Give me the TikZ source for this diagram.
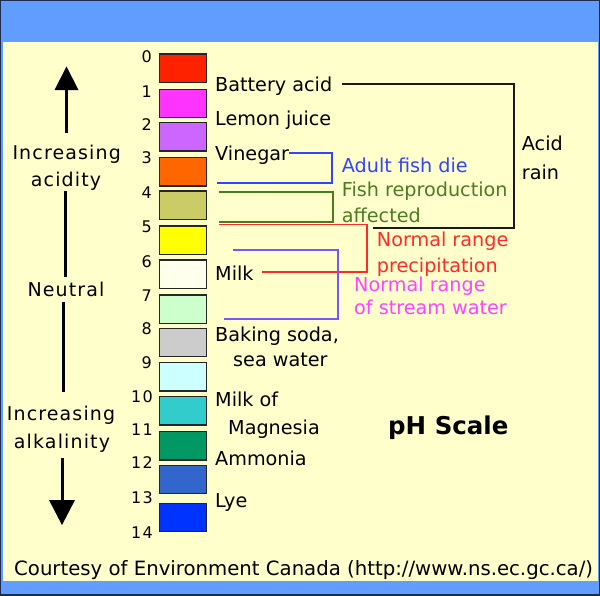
\documentclass[tikz,border=0pt]{standalone}
\usepackage{fontspec}
\setmainfont{DejaVu Sans}
\newfontfamily\lsfont[LetterSpace=6]{DejaVu Sans}
\newfontfamily\numfont[LetterSpace=8]{DejaVu Sans}
\definecolor{bgblue}{HTML}{619CFF}
\definecolor{edge}{HTML}{1E2C4E}
\definecolor{panel}{HTML}{FFFFCC}
\definecolor{c0}{HTML}{FF2200}
\definecolor{c1}{HTML}{FF33FF}
\definecolor{c2}{HTML}{CC66FF}
\definecolor{c3}{HTML}{FF6600}
\definecolor{c4}{HTML}{CCCC66}
\definecolor{c5}{HTML}{FFFF00}
\definecolor{c6}{HTML}{FFFFEE}
\definecolor{c7}{HTML}{CCFFCC}
\definecolor{c8}{HTML}{CCCCCC}
\definecolor{c9}{HTML}{CCFFFF}
\definecolor{c10}{HTML}{33CCCC}
\definecolor{c11}{HTML}{009966}
\definecolor{c12}{HTML}{3366CC}
\definecolor{c13}{HTML}{0033FF}
\definecolor{fishblue}{HTML}{3344FF}
\definecolor{fishgreen}{HTML}{4A7D22}
\definecolor{precred}{HTML}{FF2A2A}
\definecolor{streamviolet}{HTML}{7755FF}
\definecolor{streammag}{HTML}{FF44FF}
\begin{document}
\begin{tikzpicture}[x=1pt,y=-1pt,
  pbox/.style={draw=black!85, line width=1.4pt, minimum width=47.4pt, minimum height=28.4pt, inner sep=0pt},
  num/.style={anchor=base east, inner sep=0pt, font=\numfont\fontsize{16}{19}\selectfont},
  lab/.style={anchor=base west, inner sep=0pt, font=\fontsize{19.2}{23}\selectfont},
  side/.style={anchor=base, inner sep=0pt, font=\lsfont\fontsize{19}{23}\selectfont},
  bracket/.style={line width=1.7pt},
  shaft/.style={line width=3pt}]
\useasboundingbox (0,0) rectangle (600,595);
\fill[bgblue] (0,0) rectangle (600,595);
\draw[edge, line width=1.2pt] (0,0) rectangle (600,595);
\fill[panel] (3,42) rectangle (598,581);
% boxes
\node[pbox, fill=c0]  (b0)  at (183,68.35) {};
\node[pbox, fill=c1]  (b1)  at (183,103.5) {};
\node[pbox, fill=c2]  (b2)  at (183,136.85) {};
\node[pbox, fill=c3]  (b3)  at (183,171.85) {};
\node[pbox, fill=c4]  (b4)  at (183,205.15) {};
\node[pbox, fill=c5]  (b5)  at (183,240.15) {};
\node[pbox, fill=c6]  (b6)  at (183,274.15) {};
\node[pbox, fill=c7]  (b7)  at (183,309.15) {};
\node[pbox, fill=c8]  (b8)  at (183,342.5) {};
\node[pbox, fill=c9]  (b9)  at (183,376.7) {};
\node[pbox, fill=c10] (b10) at (183,410.85) {};
\node[pbox, fill=c11] (b11) at (183,445.85) {};
\node[pbox, fill=c12] (b12) at (183,479.5) {};
\node[pbox, fill=c13] (b13) at (183,517.5) {};
% numbers
\node[num] (n0)  at (152,62)    {0};
\node[num] (n1)  at (152,97)    {1};
\node[num] (n2)  at (152,130.5) {2};
\node[num] (n3)  at (152,163.5) {3};
\node[num] (n4)  at (152,198.5) {4};
\node[num] (n5)  at (152,232)   {5};
\node[num] (n6)  at (152,267.5) {6};
\node[num] (n7)  at (152,301)   {7};
\node[num] (n8)  at (152,334.5) {8};
\node[num] (n9)  at (152,368.5) {9};
\node[num] (n10) at (153,402)   {10};
\node[num] (n11) at (153,435.5) {11};
\node[num] (n12) at (153,468.5) {12};
\node[num] (n13) at (153,503.5) {13};
\node[num] (n14) at (153,538.5) {14};
% substance labels
\node[lab] (battery) at (215,91.7)  {Battery acid};
\node[lab] (lemon)   at (215,125)   {Lemon juice};
\node[lab] (vinegar) at (215,160)   {Vinegar};
\node[lab] (milk)    at (215,280.7) {Milk};
\node[lab] (baking)  at (215,341)   {Baking soda,};
\node[lab] (sea)     at (233,366.7) {sea water};
\node[lab] (milkof)  at (215,406.7) {Milk of};
\node[lab] (magn)    at (228,434)   {Magnesia};
\node[lab] (ammonia) at (215,465.5) {Ammonia};
\node[lab] (lye)     at (215,507)   {Lye};
% annotation labels
\node[lab] (acid)  at (521.7,150)   {Acid};
\node[lab] (rain)  at (521.7,179.3) {rain};
\node[lab, text=fishblue] (adult) at (341.7,172.7) {Adult fish die};
\node[lab, text=fishgreen] (fishrep) at (341.7,196.7) {Fish reproduction};
\node[lab, text=fishgreen] (affected) at (341.7,222.7) {affected};
\node[lab, text=precred] (normp1) at (376.7,246.5) {Normal range};
\node[lab, text=precred] (normp2) at (376.7,272.5) {precipitation};
\node[lab, text=streammag] (norms1) at (354,291.5) {Normal range};
\node[lab, text=streammag] (norms2) at (354,314) {of stream water};
\node[anchor=base west, inner sep=0pt, font=\bfseries\fontsize{24.5}{28}\selectfont] (title) at (388,434) {pH Scale};
\node[anchor=base west, inner sep=0pt, font=\fontsize{19.7}{23}\selectfont] (credit) at (14,575) {Courtesy of Environment Canada (http://www.ns.ec.gc.ca/)};
% brackets
\coordinate (k1) at (342,84.3);  \coordinate (k2) at (514,84.3);
\coordinate (k3) at (514,228);   \coordinate (k4) at (373,228);
\draw[bracket, black!90] (k1) -- (k2) -- (k3) -- (k4);
\coordinate (f1) at (289.3,153.3); \coordinate (f2) at (331.7,153.3);
\coordinate (f3) at (331.7,182.7); \coordinate (f4) at (217.3,182.7);
\draw[bracket, fishblue] (f1) -- (f2) -- (f3) -- (f4);
\coordinate (g1) at (219,191.7); \coordinate (g2) at (333.3,191.7);
\coordinate (g3) at (333.3,221.7); \coordinate (g4) at (219,221.7);
\draw[bracket, fishgreen] (g1) -- (g2) -- (g3) -- (g4);
\coordinate (r1) at (219,224.6); \coordinate (r2) at (367,224.6);
\coordinate (r3) at (367,271.7); \coordinate (r4) at (261.7,271.7);
\draw[bracket, precred] (r1) -- (r2) -- (r3) -- (r4);
\coordinate (s1) at (232.7,250); \coordinate (s2) at (338.3,250);
\coordinate (s3) at (338.3,319.3); \coordinate (s4) at (224,319.3);
\draw[bracket, streamviolet] (s1) -- (s2) -- (s3) -- (s4);
% left scale labels and arrows
\node[side] (inc1) at (66.7,159.3) {Increasing};
\node[side] (acidity) at (66,186.5) {acidity};
\node[side] (neutral) at (66,296) {Neutral};
\node[side] (inc2) at (61,420) {Increasing};
\node[side] (alk) at (62,448) {alkalinity};
\coordinate (ua0) at (66.5,133); \coordinate (ua1) at (66.5,89);
\draw[shaft] (ua0) -- (ua1);
\fill (66.5,66.5) -- (54.5,90) -- (78.5,90) -- cycle;
\coordinate (l1a) at (65,191); \coordinate (l1b) at (65,277);
\draw[shaft] (l1a) -- (l1b);
\coordinate (l2a) at (63.5,302); \coordinate (l2b) at (63.5,392);
\draw[shaft] (l2a) -- (l2b);
\coordinate (da0) at (62,458); \coordinate (da1) at (62,501);
\draw[shaft] (da0) -- (da1);
\fill (49,500) -- (75,500) -- (62,525) -- cycle;
\end{tikzpicture}
\end{document}
